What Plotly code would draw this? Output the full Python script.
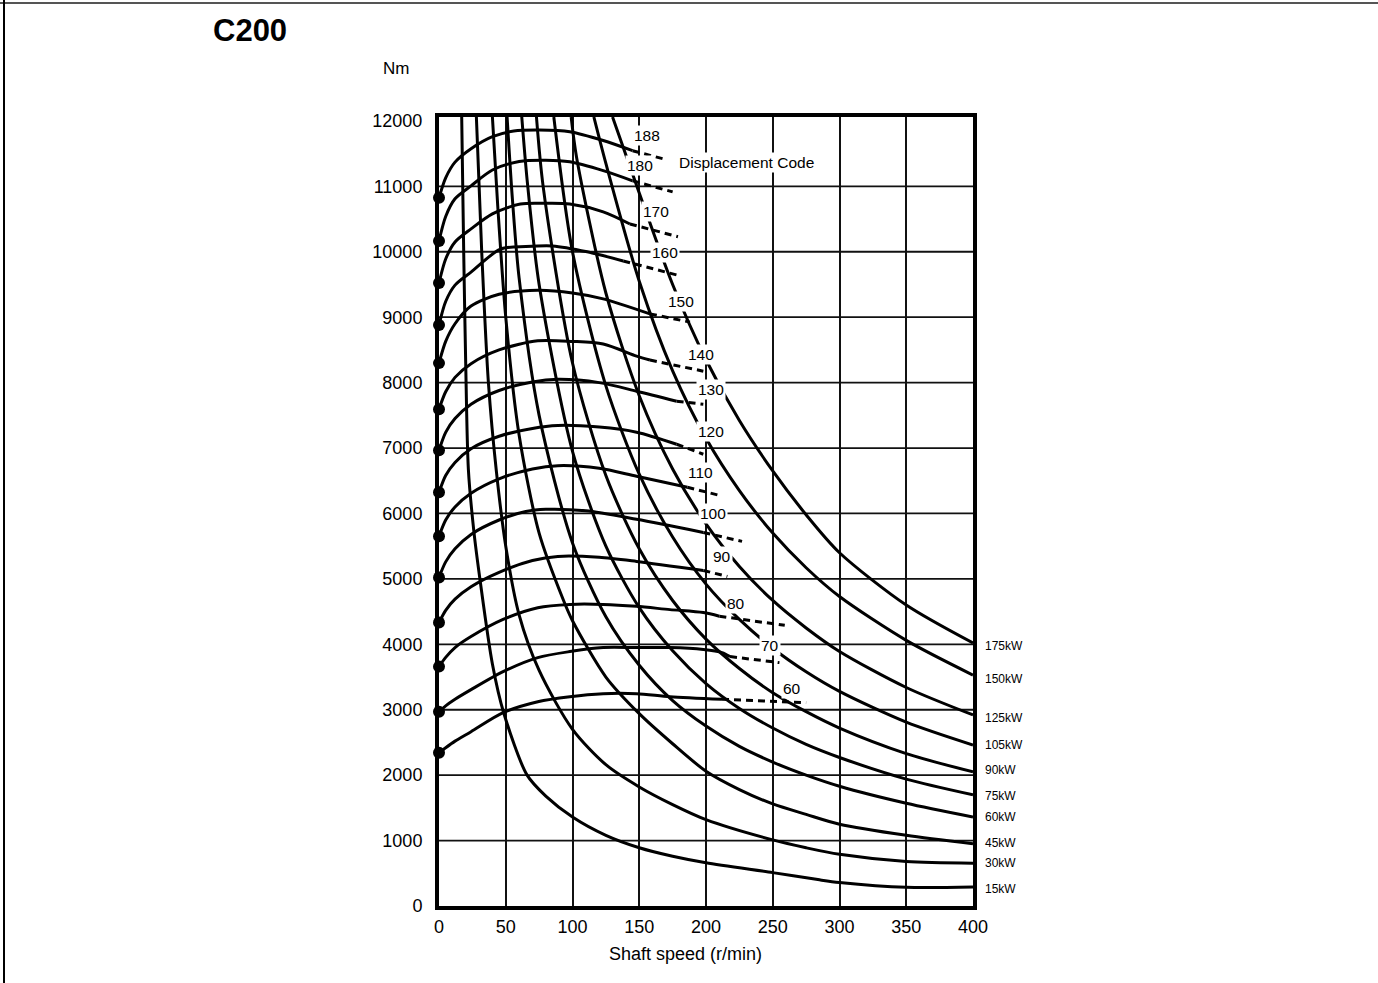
import plotly.graph_objects as go

# ---------------- data ----------------
# power curves (kW): x = shaft speed r/min, y = torque Nm
pw_labels = ["175kW", "150kW", "125kW", "105kW", "90kW", "75kW", "60kW", "45kW", "30kW", "15kW"]
pw_x = {
    "15kW":  [17, 18.5, 20, 22, 26, 31, 40, 48.5, 66, 80, 100, 125, 150, 175, 200, 250, 285, 300, 350, 400],
    "30kW":  [28, 32, 37, 43, 50, 60, 75, 100, 125, 150, 175, 200, 250, 275, 300, 350, 400],
    "45kW":  [40, 44, 50, 60, 75, 93, 100, 125, 150, 175, 200, 225, 250, 275, 300, 350, 400],
    "60kW":  [51, 55, 60, 75, 100, 125, 150, 175, 200, 225, 250, 275, 300, 350, 400],
    "75kW":  [62, 66, 75, 100, 125, 150, 175, 200, 225, 250, 275, 300, 350, 400],
    "90kW":  [73, 78, 100, 125, 150, 175, 200, 225, 250, 275, 300, 350, 400],
    "105kW": [86, 100, 125, 150, 175, 200, 225, 250, 275, 300, 350, 400],
    "125kW": [99, 103, 125, 150, 175, 200, 225, 250, 275, 300, 350, 400],
    "150kW": [116, 125, 150, 175, 200, 225, 250, 275, 300, 350, 400],
    "175kW": [130, 150, 175, 200, 225, 250, 275, 300, 350, 400],
}
pw_y = {
    "15kW":  [12060, 10000, 8300, 6675, 5750, 4945, 3700, 2950, 2000, 1680, 1360, 1080, 890, 760, 660, 510, 400, 360, 285, 290],
    "30kW":  [12060, 10000, 8000, 6640, 5500, 4450, 3600, 2700, 2160, 1820, 1550, 1320, 1010, 890, 790, 680, 655],
    "45kW":  [12060, 10700, 9000, 7200, 5700, 4685, 4360, 3500, 2940, 2480, 2060, 1780, 1560, 1400, 1250, 1080, 950],
    "60kW":  [12060, 10800, 9600, 7500, 5550, 4420, 3680, 3140, 2750, 2440, 2200, 2000, 1830, 1570, 1360],
    "75kW":  [12060, 11100, 9500, 6950, 5500, 4560, 3900, 3400, 3020, 2720, 2470, 2270, 1940, 1700],
    "90kW":  [12060, 11000, 8300, 6580, 5460, 4670, 4080, 3630, 3260, 2970, 2720, 2330, 2050],
    "105kW": [12060, 10000, 7950, 6600, 5640, 4920, 4380, 3940, 3580, 3280, 2810, 2460],
    "125kW": [12060, 11450, 9370, 7800, 6680, 5840, 5190, 4670, 4250, 3890, 3340, 2920],
    "150kW": [12060, 11350, 9550, 8180, 7150, 6350, 5700, 5170, 4730, 4060, 3530],
    "175kW": [12060, 10900, 9500, 8350, 7420, 6650, 5980, 5400, 4600, 4020],
}

# displacement-code curves
codes = ["188", "180", "170", "160", "150", "140", "130", "120", "110", "100", "90", "80", "70", "60"]
dc_x = {
    "188": [0, 5, 12, 24, 40, 56, 75, 98, 123, 145],
    "180": [0, 5, 12, 24, 40, 60, 80, 98, 123, 145],
    "170": [0, 5, 12, 24, 40, 61, 80, 98, 123, 143],
    "160": [0, 5, 12, 24, 46, 65, 85, 111, 138],
    "150": [0, 5, 12, 24, 45, 74, 100, 123, 158],
    "140": [0, 5, 12, 24, 45, 74, 100, 123, 148, 158],
    "130": [0, 5, 12, 24, 45, 70, 89, 120, 148, 178],
    "120": [0, 5, 12, 24, 45, 70, 89, 120, 148, 178],
    "110": [0, 5, 12, 24, 45, 70, 89, 120, 148, 186],
    "100": [0, 5, 12, 24, 45, 65, 80, 110, 148, 198],
    "90":  [0, 5, 12, 24, 45, 70, 89, 120, 148, 198],
    "80":  [0, 5, 12, 24, 48, 74, 98, 123, 148, 173, 198, 210],
    "70":  [0, 5, 12, 24, 48, 74, 98, 123, 148, 173, 198, 212, 218],
    "60":  [0, 5, 12, 24, 48, 74, 98, 123, 148, 173, 212],
}
dc_y = {
    "188": [10824, 11130, 11370, 11575, 11760, 11845, 11860, 11835, 11700, 11545],
    "180": [10166, 10540, 10810, 11008, 11250, 11380, 11400, 11375, 11240, 11085],
    "170": [9523, 9890, 10150, 10350, 10580, 10730, 10740, 10730, 10610, 10425],
    "160": [8880, 9240, 9490, 9690, 10040, 10080, 10090, 10000, 9860],
    "150": [8298, 8630, 8900, 9170, 9350, 9410, 9370, 9280, 9050],
    "140": [7594, 7860, 8080, 8290, 8500, 8640, 8630, 8590, 8405, 8345],
    "130": [6966, 7240, 7450, 7670, 7880, 8010, 8050, 8000, 7869, 7716],
    "120": [6323, 6580, 6780, 6990, 7180, 7300, 7345, 7320, 7242, 7058],
    "110": [5650, 5900, 6100, 6310, 6530, 6680, 6730, 6690, 6568, 6400],
    "100": [5022, 5260, 5460, 5680, 5900, 6030, 6063, 6040, 5910, 5710],
    "90":  [4333, 4520, 4690, 4880, 5100, 5280, 5343, 5330, 5267, 5129],
    "80":  [3659, 3800, 3950, 4118, 4380, 4560, 4610, 4610, 4580, 4530, 4485, 4430],
    "70":  [2970, 3060, 3160, 3307, 3582, 3797, 3889, 3950, 3950, 3950, 3920, 3873, 3812],
    "60":  [2342, 2420, 2520, 2664, 2955, 3123, 3200, 3245, 3245, 3200, 3160],
}
# dashed end point of each displacement curve
dc_dash_end_x = {"188": 168, "180": 175, "170": 179, "160": 181, "150": 188, "140": 198, "130": 198,
                 "120": 198, "110": 210, "100": 227, "90": 216, "80": 259, "70": 255, "60": 275}
dc_dash_end_y = {"188": 11420, "180": 10915, "170": 10230, "160": 9630, "150": 8925, "140": 8175, "130": 7670,
                 "120": 6905, "110": 6277, "100": 5573, "90": 5037, "80": 4290, "70": 3720, "60": 3108}
# code label positions (data coords)
lab_x = {"188": 156, "180": 150.4, "170": 162.7, "160": 169.4, "150": 181.3, "140": 196.6, "130": 204,
         "120": 203.7, "110": 196, "100": 205, "90": 211.9, "80": 222.4, "70": 247.8, "60": 264.2}
lab_y = {"188": 11774, "180": 11315, "170": 10609, "160": 9996, "150": 9246, "140": 8435, "130": 7900,
         "120": 7257, "110": 6629, "100": 6002, "90": 5343, "80": 4624, "70": 3981, "60": 3323}

x_ticks = [0, 50, 100, 150, 200, 250, 300, 350, 400]
y_ticks = [0, 1000, 2000, 3000, 4000, 5000, 6000, 7000, 8000, 9000, 10000, 11000, 12000]
y_grid = [1000, 2000, 3000, 4000, 5000, 6000, 7000, 8000, 9000, 10000, 11000]

# ---------------- figure ----------------
W, H = 1378, 983
L, R, T, B = 439, 973, 117, 906  # plot-area pixel box
FONT = "Liberation Sans, Arial, sans-serif"


def px(xp):
    return (xp - L) / (R - L)


def py(yp):
    return (B - yp) / (B - T)


fig = go.Figure()
LW = 3

for lab in pw_labels:
    fig.add_trace(go.Scatter(x=pw_x[lab], y=pw_y[lab], mode="lines",
                             line=dict(color="black", width=LW, shape="spline", smoothing=0.8),
                             hoverinfo="skip", showlegend=False))

for c in codes:
    fig.add_trace(go.Scatter(x=dc_x[c], y=dc_y[c], mode="lines",
                             line=dict(color="black", width=LW, shape="spline", smoothing=0.8),
                             hoverinfo="skip", showlegend=False))
    fig.add_trace(go.Scatter(x=[dc_x[c][-1], dc_dash_end_x[c]], y=[dc_y[c][-1], dc_dash_end_y[c]],
                             mode="lines", line=dict(color="black", width=LW, dash="7px,5px"),
                             hoverinfo="skip", showlegend=False))

fig.add_trace(go.Scatter(x=[dc_x[c][0] for c in codes], y=[dc_y[c][0] for c in codes], mode="markers",
                         marker=dict(color="black", size=12), cliponaxis=False,
                         hoverinfo="skip", showlegend=False))

ann = []
for c in codes:
    ann.append(dict(x=lab_x[c], y=lab_y[c], xref="x", yref="y", text=c, showarrow=False,
                    xanchor="center", yanchor="middle",
                    font=dict(size=15.5, color="black", family=FONT),
                    bgcolor="white", borderpad=1))
ann.append(dict(x=230.6, y=11360, xref="x", yref="y", text="Displacement Code", showarrow=False,
                xanchor="center", yanchor="middle",
                font=dict(size=15.5, color="black", family=FONT),
                bgcolor="white", borderpad=1))

kw_py = {"175kW": 646, "150kW": 679, "125kW": 718, "105kW": 745, "90kW": 770, "75kW": 796,
         "60kW": 817, "45kW": 843, "30kW": 863, "15kW": 889}
for lab in pw_labels:
    ann.append(dict(x=px(983), y=py(kw_py[lab]), xref="paper", yref="paper", text=lab, showarrow=False,
                    xanchor="left", yanchor="middle",
                    font=dict(size=12, color="black", family=FONT)))

ann.append(dict(x=px(250), y=py(30), xref="paper", yref="paper", text="<b>C200</b>", showarrow=False,
                xanchor="center", yanchor="middle",
                font=dict(size=31, color="black", family=FONT)))
ann.append(dict(x=px(396), y=py(68), xref="paper", yref="paper", text="Nm", showarrow=False,
                xanchor="center", yanchor="middle",
                font=dict(size=17, color="black", family=FONT)))
ann.append(dict(x=px(685), y=py(954), xref="paper", yref="paper", text="Shaft speed (r/min)", showarrow=False,
                xanchor="center", yanchor="middle",
                font=dict(size=18, color="black", family=FONT)))

shapes = [
    dict(type="line", xref="paper", yref="paper", x0=px(0), x1=px(W), y0=py(3), y1=py(3),
         line=dict(color="#555555", width=2)),
    dict(type="line", xref="paper", yref="paper", x0=px(4), x1=px(4), y0=py(0), y1=py(H),
         line=dict(color="black", width=2)),
]
for g in y_grid:
    shapes.append(dict(type="line", xref="paper", yref="y", x0=0, x1=1, y0=g, y1=g, layer="below",
                       line=dict(color="#111111", width=1.8)))

fig.update_layout(
    width=W, height=H,
    margin=dict(l=L, r=W - R, t=T, b=H - B),
    paper_bgcolor="white", plot_bgcolor="white",
    showlegend=False,
    annotations=ann, shapes=shapes,
    font=dict(family=FONT, color="black"),
)
fig.update_xaxes(range=[0, 400], tickvals=x_ticks, ticktext=[str(v) for v in x_ticks],
                 showgrid=True, gridcolor="#111111", gridwidth=1.8, zeroline=False,
                 showline=True, linecolor="black", linewidth=4, mirror=True, ticks="",
                 tickfont=dict(size=18), ticklabelstandoff=1)
fig.update_yaxes(range=[0, 12060], tickvals=y_ticks, ticktext=[str(v) for v in y_ticks],
                 showgrid=False, zeroline=False,
                 showline=True, linecolor="black", linewidth=4, mirror=True, ticks="",
                 tickfont=dict(size=18), ticklabelstandoff=9)

fig.write_html("out.html")
